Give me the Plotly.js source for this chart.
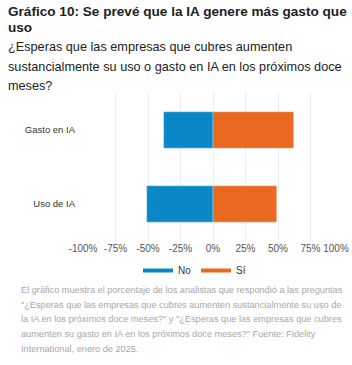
<!DOCTYPE html>
<html>
<head>
<meta charset="utf-8">
<script src="https://cdn.plot.ly/plotly-3.0.1.min.js"></script>
<style>
html,body{margin:0;padding:0;background:#fff;}
#chart{width:352px;height:365px;}
</style>
</head>
<body>
<div id="chart"></div>
<script>
// ---- data ----
var categories = ['Gasto en IA', 'Uso de IA'];
var noValues = [38, 51];   // % answering "No" (drawn to the left)
var siValues = [62, 49];   // % answering "Sí"
var seriesNames = ['No', 'Sí'];
var tickValues = [-100, -75, -50, -25, 0, 25, 50, 75, 100];
var tickLabels = ['-100%', '-75%', '-50%', '-25%', '0%', '25%', '50%', '75%', '100%'];

var titleLines = ['Gráfico 10: Se prevé que la IA genere más gasto que', 'uso'];
var subtitleLines = ['¿Esperas que las empresas que cubres aumenten',
  'sustancialmente su uso o gasto en IA en los próximos doce', 'meses?'];
var noteLines = ['El gráfico muestra el porcentaje de los analistas que respondió a las preguntas',
  '"¿Esperas que las empresas que cubres aumenten sustancialmente su uso de',
  'la IA en los próximos doce meses?" y "¿Esperas que las empresas que cubres',
  'aumenten su gasto en IA en los próximos doce meses?" Fuente: Fidelity',
  'International, enero de 2025.'];

// ---- layout geometry (pixels) ----
var W = 352, H = 365;
var L = 83, R = 9, T = 93, B = 124;
var pw = W - L - R, ph = H - T - B;
function px(x) { return (x - L) / pw; }
function py(y) { return (H - B - y) / ph; }

var BLUE = '#0a87c7', ORANGE = '#e8691f';
var FONT = 'Liberation Sans, Arial, sans-serif';
var TICKFONT = { family: FONT, size: 10, color: '#555' };

// last tick label is drawn on an overlay axis so it can be nudged inside the edge
var nLast = tickValues.length - 1;
var mainTickText = tickLabels.map(function (t, i) { return i === nLast ? '' : t; });

var traces = [
  { type: 'bar', orientation: 'h', name: seriesNames[0], y: categories,
    x: noValues.map(function (v) { return -v; }),
    marker: { color: BLUE, line: { color: 'rgba(255,255,255,0.6)', width: 0.5 } },
    showlegend: false, hoverinfo: 'skip' },
  { type: 'bar', orientation: 'h', name: seriesNames[1], y: categories,
    x: siValues,
    marker: { color: ORANGE, line: { color: 'rgba(255,255,255,0.6)', width: 0.5 } },
    showlegend: false, hoverinfo: 'skip' },
  { type: 'scatter', mode: 'lines', name: seriesNames[0], x: [null], y: [null],
    line: { color: BLUE, width: 4 } },
  { type: 'scatter', mode: 'lines', name: seriesNames[1], x: [null], y: [null],
    line: { color: ORANGE, width: 4 } },
  { type: 'scatter', mode: 'none', x: [null], y: [null], xaxis: 'x2',
    showlegend: false, hoverinfo: 'skip' }
];

var annotations = [];
titleLines.forEach(function (t, i) {
  annotations.push({ text: '<b>' + t + '</b>', xref: 'paper', yref: 'paper',
    x: px(6), y: py(12 + i * 16), xanchor: 'left', yanchor: 'middle', showarrow: false,
    font: { family: FONT, size: 13.6, color: '#222' } });
});
subtitleLines.forEach(function (t, i) {
  annotations.push({ text: t, xref: 'paper', yref: 'paper',
    x: px(6), y: py(47 + i * 19.5), xanchor: 'left', yanchor: 'middle', showarrow: false,
    font: { family: FONT, size: 12.7, color: '#222' } });
});
noteLines.forEach(function (t, i) {
  annotations.push({ text: t, xref: 'paper', yref: 'paper',
    x: px(19), y: py(290 + i * 14.7), xanchor: 'left', yanchor: 'middle', showarrow: false,
    font: { family: FONT, size: 9.2, color: '#a8a8a8' } });
});

var layout = {
  width: W, height: H,
  margin: { l: L, r: R, t: T, b: B, pad: 0 },
  paper_bgcolor: '#fff', plot_bgcolor: '#fff',
  barmode: 'relative', bargap: 0.51,
  font: { family: FONT },
  xaxis: { range: [-100, 100], tickvals: tickValues, ticktext: mainTickText,
    showgrid: true, gridcolor: '#ececec', gridwidth: 1, zeroline: false,
    showline: false, ticks: '', fixedrange: true, tickfont: TICKFONT },
  xaxis2: { overlaying: 'x', matches: 'x', side: 'bottom', range: [-100, 100],
    tickvals: [tickValues[nLast]], ticktext: [tickLabels[nLast]],
    showgrid: false, zeroline: false, showline: false, ticks: '', fixedrange: true,
    ticklabelshift: -7, ticklabeloverflow: 'allow', tickfont: TICKFONT },
  yaxis: { type: 'category', autorange: 'reversed', showgrid: false, zeroline: false,
    showline: false, ticks: '', fixedrange: true, ticklabelstandoff: 7,
    tickfont: { family: FONT, size: 9.5, color: '#333' } },
  showlegend: true,
  legend: { orientation: 'h', x: px(138), xanchor: 'left', y: py(256), yanchor: 'top',
    entrywidth: 13, entrywidthmode: 'pixels', itemwidth: 30,
    font: { family: FONT, size: 10, color: '#333' }, bgcolor: 'rgba(0,0,0,0)' },
  annotations: annotations
};

Plotly.newPlot('chart', traces, layout, { displayModeBar: false, staticPlot: true });
</script>
</body>
</html>
